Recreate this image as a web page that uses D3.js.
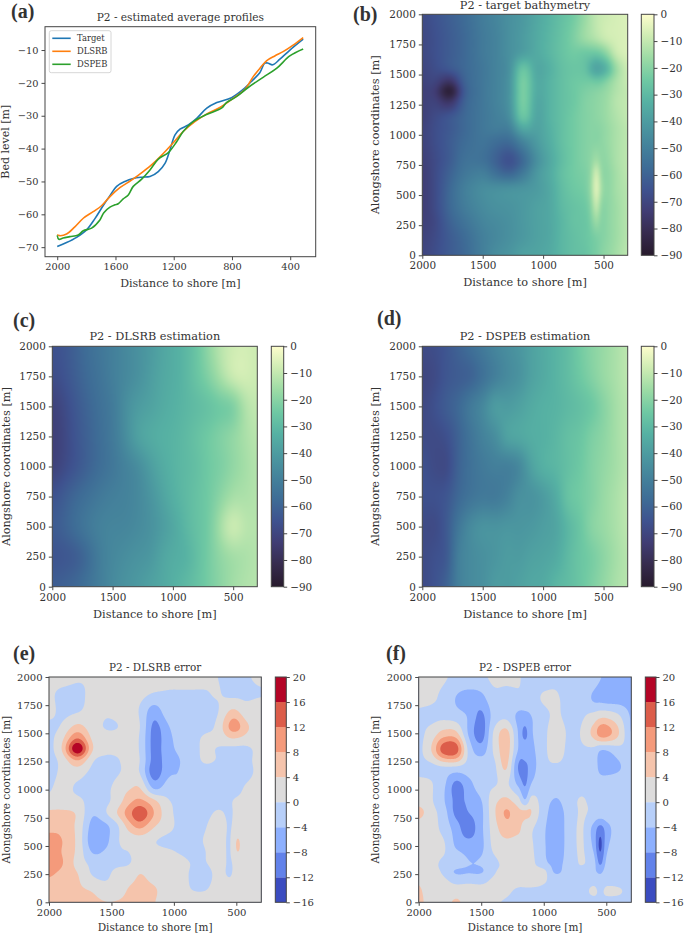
<!DOCTYPE html>
<html lang="en">

<head>
  <meta charset="UTF-8">
  <title>P2 bathymetry estimation</title>
  <script src="https://d3js.org/d3.v7.min.js"></script>
  <style>
    body {
      margin: 0;
      padding: 0;
      background: white;
    }

    text {
      font-family: "DejaVu Serif", serif;
      fill: #333;
    }

    .letter {
      font-family: "Liberation Serif", serif;
      font-weight: bold;
      font-size: 20px;
    }
  </style>
</head>

<body>
  <svg id="fig" width="685" height="933"></svg>
  <script>
    // (a) average profiles
    const targetX = [2000, 1936, 1867, 1800, 1741, 1684, 1638, 1592, 1535, 1478, 1420, 1363, 1306, 1260, 1226, 1191, 1157, 1100, 1042, 973, 904, 803, 723, 654, 609, 574, 551, 521, 471, 402, 311];
    const targetY = [-69.8, -68.6, -67, -64.8, -61.3, -57.3, -54.3, -51.5, -50, -49.1, -48.7, -48.5, -47, -44.5, -40.4, -35.8, -34.1, -32.8, -30.8, -27.7, -26, -24.5, -22, -19, -16.9, -14, -14, -14.5, -12.8, -10, -6.7];
    const dlsrbX = [2000, 1982, 1936, 1879, 1821, 1753, 1696, 1638, 1570, 1490, 1410, 1341, 1272, 1203, 1135, 1055, 975, 883, 792, 712, 654, 609, 563, 506, 449, 380, 311];
    const dlsrbY = [-66.2, -66.5, -66, -63.8, -61.2, -59.2, -57.4, -54.6, -51.9, -49.6, -47, -44.5, -41.5, -38.2, -34.8, -31.8, -29.5, -27.5, -24.7, -22, -18.1, -15.6, -13.3, -11.8, -10.5, -8.5, -6.2];
    const dspebX = [2000, 1989, 1959, 1913, 1856, 1821, 1764, 1707, 1680, 1638, 1604, 1581, 1547, 1512, 1478, 1420, 1363, 1306, 1237, 1180, 1135, 1066, 975, 872, 838, 769, 689, 586, 494, 403, 311];
    const dspebY = [-66.4, -67.6, -67.2, -66.8, -66.3, -65, -64.2, -61.7, -59.5, -57.8, -57.1, -56.8, -55.3, -54.1, -51.5, -49.3, -46.5, -43.2, -41.2, -37.9, -34.8, -31.8, -29.6, -27.7, -26, -24.2, -21.4, -18.3, -15.6, -11.8, -9.7];

    const profileTicksX = [2000, 1600, 1200, 800, 400];
    const profileTicksY = [-10, -20, -30, -40, -50, -60, -70];
    const mapTicksX = [2000, 1500, 1000, 500];
    const mapTicksY = [0, 250, 500, 750, 1000, 1250, 1500, 1750, 2000];
    const depthTicks = [0, -10, -20, -30, -40, -50, -60, -70, -80, -90];
    const errLevels = [-16, -12, -8, -4, 0, 4, 8, 12, 16, 20];
    const errColors = ["#3b4cc0", "#6282ea", "#8db0fe", "#b7cff9", "#dddcdc", "#f5c4ac", "#f49a7b", "#dc5d4a", "#b40426"];
    const deepStops = ["#fdfdcc", "#ceecb3", "#9cdba5", "#6fc9a3", "#56b1a3", "#4c99a0", "#44829b", "#3e6c96", "#3e528f", "#403c73", "#362b4d", "#271a2c"];

    // (b) target bathymetry, rows top to bottom
    const targetCols = [2000, 1900, 1770, 1650, 1500, 1400, 1280, 1170, 1050, 950, 850, 750, 650, 600, 560, 520, 470, 400, 300];
    const targetRows = [2000, 1800, 1680, 1550, 1440, 1360, 1280, 1150, 1050, 950, 790, 680, 550, 400, 280, 150, 0];
    const targetGrid = [
      [-68, -65, -61, -57, -51, -48, -44, -41, -36, -32, -28, -24, -17, -13, -10, -9, -8, -7, -6],
      [-69, -66, -62, -58, -52, -49, -44, -40, -35, -31, -27, -22, -16, -14, -12, -10, -8, -7, -6],
      [-69, -66, -62, -58, -52, -49, -44, -39, -35, -31, -27, -24, -25, -25, -25, -23, -18, -9, -6],
      [-70, -67, -63, -58, -53, -49, -44, -26, -36, -33, -28, -26, -27, -34, -38, -36, -31, -17, -8],
      [-71, -70, -77, -60, -53, -49, -43, -22, -35, -32, -28, -25, -24, -24, -25, -24, -20, -14, -9],
      [-72, -73, -88, -62, -53, -49, -43, -22, -35, -32, -28, -25, -22, -21, -20, -19, -17, -13, -10],
      [-72, -71, -77, -60, -53, -49, -43, -22, -36, -32, -28, -25, -21, -20, -19, -18, -16, -12, -10],
      [-72, -68, -64, -58, -53, -50, -45, -25, -37, -32, -28, -24, -21, -20, -19, -18, -16, -13, -10],
      [-71, -67, -63, -58, -53, -51, -50, -36, -38, -33, -28, -24, -21, -20, -20, -19, -17, -14, -11],
      [-71, -67, -62, -57, -54, -56, -57, -48, -40, -34, -28, -24, -21, -20, -20, -19, -17, -14, -11],
      [-72, -68, -62, -55, -55, -60, -66, -58, -44, -36, -29, -24, -21, -19, -14, -19, -18, -14, -11],
      [-73, -68, -60, -53, -50, -55, -59, -52, -41, -35, -28, -24, -22, -18, -4, -18, -19, -15, -11],
      [-73, -68, -58, -50, -45, -44, -43, -42, -40, -36, -29, -25, -23, -17, -1, -16, -19, -15, -12],
      [-73, -68, -58, -51, -46, -44, -43, -41, -38, -36, -30, -27, -25, -20, -7, -20, -19, -16, -12],
      [-72, -69, -60, -54, -48, -46, -44, -41, -38, -36, -31, -27, -26, -22, -15, -21, -19, -16, -12],
      [-71, -68, -62, -57, -50, -47, -44, -41, -38, -36, -31, -28, -26, -24, -22, -21, -19, -16, -12],
      [-70, -67, -62, -58, -50, -45, -42, -38, -37, -35, -31, -28, -27, -24, -23, -20, -18, -15, -11]
    ];

    // (c) and (d) estimations
    const estCols = [2000, 1900, 1800, 1700, 1600, 1500, 1400, 1300, 1200, 1100, 1000, 900, 800, 700, 600, 500, 400, 300];
    const estRows = [2000, 1750, 1500, 1250, 1000, 750, 500, 250, 0];
    const dlsrbGrid = [
      [-66, -64, -60, -56, -53, -50, -47, -44, -41, -37, -34, -31, -26, -18, -11, -8, -7, -9],
      [-68, -65, -61, -57, -54, -50, -47, -44, -40, -36, -34, -31, -26, -21, -14, -8, -7, -9],
      [-72, -68, -63, -59, -55, -52, -45, -40, -38, -35, -33, -31, -29, -27, -24, -23, -12, -10],
      [-73, -69, -64, -60, -56, -52, -46, -38, -35, -33, -32, -30, -27, -24, -21, -18, -14, -11],
      [-72, -68, -64, -60, -56, -53, -49, -46, -40, -35, -32, -30, -28, -24, -22, -18, -15, -12],
      [-66, -62, -58, -55, -52, -50, -49, -47, -43, -38, -33, -30, -27, -24, -19, -14, -14, -12],
      [-63, -60, -56, -52, -49, -48, -48, -46, -44, -40, -36, -31, -27, -24, -14, -7, -12, -12],
      [-65, -64, -62, -57, -50, -47, -45, -43, -42, -37, -34, -33, -28, -23, -18, -15, -14, -12],
      [-62, -60, -58, -54, -50, -46, -43, -41, -38, -36, -33, -30, -27, -23, -19, -15, -13, -12]
    ];
    const dspebGrid = [
      [-68, -67, -64, -60, -56, -52, -48, -45, -42, -38, -35, -32, -29, -24, -20, -17, -14, -11],
      [-70, -68, -64, -62, -60, -55, -50, -46, -43, -38, -35, -32, -29, -25, -21, -17, -14, -11],
      [-69, -66, -62, -58, -52, -47, -40, -40, -38, -35, -33, -32, -30, -28, -25, -20, -15, -12],
      [-68, -68, -66, -60, -54, -49, -45, -38, -36, -34, -33, -31, -28, -26, -22, -19, -15, -12],
      [-66, -68, -68, -60, -55, -52, -50, -50, -47, -38, -33, -31, -28, -25, -21, -18, -15, -12],
      [-66, -66, -64, -58, -54, -52, -52, -49, -44, -43, -40, -35, -27, -24, -21, -17, -14, -11],
      [-68, -68, -63, -53, -46, -43, -43, -42, -42, -41, -39, -37, -31, -26, -20, -17, -14, -11],
      [-68, -66, -63, -50, -46, -44, -42, -40, -40, -38, -37, -35, -30, -26, -23, -19, -15, -12],
      [-68, -65, -60, -50, -46, -44, -40, -40, -38, -36, -35, -31, -29, -26, -22, -18, -14, -12]
    ];

    // (e) DLSRB error
    const errECols = [2000, 1900, 1770, 1650, 1550, 1450, 1350, 1270, 1160, 1050, 950, 850, 750, 650, 550, 500, 430, 300];
    const errERows = [2000, 1850, 1700, 1560, 1460, 1360, 1260, 1150, 1000, 900, 790, 680, 550, 450, 350, 250, 120, 0];
    const errEGrid = [
      [2, 2, 0.5, 0.5, 1.5, 1, 1, 1, 1, 1, 1, 1, 1, 0, -1, -1, -0.5, 1],
      [1, -1, -1, 1, 1.5, 1.5, 1, 1, -0.2, -0.3, -0.3, -0.3, -0.3, 0.3, -1, -1, -0.8, -0.3],
      [1.5, -1, -0.5, 1.5, 0.5, 1, 1.5, -0.5, -6, -1.5, -1, -1, -1, -0.3, 4.2, 4.2, 1.5, 2],
      [-1, 0.3, 5, 1.5, -0.2, -0.1, 1.5, 0, -9, -4.5, -1, -1, -1, 1, 9, 10, 5, 1.5],
      [-1, 2.5, 11.5, 3, 1, 1, 1.5, -0.5, -9.5, -5.5, -2, -1, 0.5, 1, 4.2, 4.2, 3, 1.5],
      [-1, 3.7, 20, 4.3, 1.2, 1, 1.5, -0.5, -9.5, -5.5, -3, -1, 0.5, -0.2, -1, -1, -1, 1.5],
      [-1, 1, 8, 0.5, -1, -0.3, 1.5, -0.1, -9.5, -6, -4, -1.5, 0.5, -0.2, -1, -1, -1, 1.5],
      [-1, 0.5, 1.5, -1, -1.5, -0.3, 1, -0.2, -10.5, -4.8, -3.8, -1.5, -1.5, -1.5, -1.5, -1.5, -1, 1],
      [-0.3, 1, -0.5, -1.5, -1, 1.5, 4, 4.5, -3.9, -2, -3.8, -1, -1, -1, -1, -1, 0.5, 1.5],
      [1, 1.5, 1, -1.5, -1, 2, 7, 9, 5, 0.5, -1, -1, -1, -1, -0.3, 0.5, 1, 1],
      [5, 5, 3.5, -3.5, -0.5, 4.3, 11, 15.5, 8, 1.5, -1, -1, -1, 0.5, -0.5, 1, 2, 2],
      [6.5, 6.5, 3, -5.5, -5, -0.5, 6.5, 9.5, 4.5, 1.5, -1, -1, -0.3, 2, -0.5, 2, 2, 2],
      [9.5, 8.2, 3, -6.5, -5.5, -0.3, 1.2, 1.8, 0.3, -1, -1, -1, 0.3, 2, -0.5, 4.5, 2, 2],
      [9.5, 8, 3, -4.5, -3.5, -0.5, 0.1, 1.5, 1, 0.5, -0.3, -1, -0.1, 2, -0.5, 4.3, 2, 2],
      [9, 8.5, 2.5, -1, -1.2, -0.8, -0.1, 1.5, 1.5, 1, 1, -0.2, -0.2, 1.5, -0.5, 1.5, 2, 2],
      [8.5, 7, 4.2, -0.3, -1, 1.5, 1.8, 4.2, 2, 1.5, 1, -0.5, -1.5, 1, -0.4, 1.5, 2, 2],
      [6, 5.5, 4.5, 3.5, 1.5, 2, 4.5, 5.5, 4.5, 2, 1.5, -0.2, -0.3, 1.5, 1.5, 2, 2, 2],
      [6, 5.5, 5, 4.8, 4.2, 4.3, 5, 5.5, 4.2, 2, 2, 2, 2, 2, 2, 2, 2, 2]
    ];

    // (f) DSPEB error
    const errFCols = [2000, 1900, 1800, 1700, 1600, 1500, 1400, 1300, 1200, 1150, 1100, 1000, 900, 800, 700, 600, 550, 500, 400, 300];
    const errFRows = [2000, 1800, 1650, 1500, 1350, 1200, 1050, 900, 800, 650, 500, 350, 275, 200, 100, 0];
    const errFGrid = [
      [0.5, 0.5, 0.5, -1, -1, -1, 1, 1, 0.5, -1, -1, -1, -0.5, -1, -1, -2, -3.8, -4.5, -5, -5],
      [0.5, 0.5, -1, -4.2, -6, -5.5, -1.5, -1.5, -1, -1, -1, 0.3, 0.3, -1, -1.5, -4.5, -5, -5.5, -5.5, -5.5],
      [-0.5, -1, -1, -2, -4.5, -9, -2.5, -1, -5, -5.5, -4, -1, 0.5, -1, -0.5, 1.5, 3, 3, 0.5, -4.5],
      [-1, 1.5, 5.5, 5, -4.5, -10, 0.5, 5.5, -4.5, -9, -4.5, -1, 2, -0.5, 0.3, 5.5, 10, 10, 4, -4.2],
      [-1, 3.8, 14, 14, -1, -6, 0.5, 6, -4.5, -6, -5, -1, 2, -1, -0.5, -1, -3.8, -3.8, -1.5, -1],
      [-0.5, -1, -0.3, -0.5, -1.5, -1, -1, 4.5, -8.5, -9, -6, -1, -0.5, -1, -1, -1.5, -5.5, -6, -4.5, -1],
      [0.5, 0.3, -3, -9, -5.5, -1.5, -0.5, 0.8, -5, -8.5, -3.8, -1, -1, -1, -1, -1, -1.5, -1.5, -1, -1],
      [2, 0.5, -3.5, -9, -7, -4.2, 2.5, 5, 1.5, -3.5, 1.5, -2, -4.5, -1.5, 0.3, -1, -1, -1, -1, -1],
      [5.5, 1.5, -2, -9, -8, -5, 3, 8.5, 5, 4.8, 4, -2.5, -5.5, -2.5, 0.5, -1, -1, -1, -1, -1],
      [1, 1, -1, -6, -10, -5, 2, 6, 5, 1.5, 0.5, -3.5, -6, -2.5, 0.5, -5.5, -10, -6, -1, -1],
      [1, 1, 0.5, -4.5, -6, -5, 1, 2.5, 1, 1, 0.5, -3.5, -6, -2.5, 0.5, -5, -13, -5, -1, -1],
      [1, 0.8, -0.5, -1, -3.8, -3.5, -1, 1, 1, 1, 1, -3, -5, -2.5, 0.3, -2.5, -9, -3, -1, -1],
      [4, 1, -0.5, -4.6, -4.5, -4.5, -0.5, 1, 1, 1, 1, 1, -5, -1, -1, -3, -5, -2, -1, -1],
      [3.5, 1, 0.5, -1, -1, -1, 0.5, 1, 1, 1, 1, 0.3, -1, -1, -1, -1, -2, -1, -1, -1],
      [5, 1, 1, 1.5, 1.5, 1, 0.8, 0.5, -0.5, -0.5, -0.5, -0.5, -1, -1, -1, 0.5, -0.5, 0.5, 0.3, -1],
      [6, 1, 1, 5, 1, 0.5, 0.3, -0.3, -1, -1, -1, -1, -1, -1, -1, -1, -1, -1, -1, -1]
    ];

    const svg = d3.select("#fig");
    const deep = d3.piecewise(d3.interpolateRgb, deepStops);

    function cubic(p0, p1, p2, p3, t) {
      return p1 + 0.5 * t * (p2 - p0 + t * (2 * p0 - 5 * p1 + 4 * p2 - p3 + t * (3 * (p1 - p2) + p3 - p0)));
    }

    // bicubic resample of a hand read grid, then blur a bit
    function resample(cols, rows, grid, w, h, r) {
      const colIdx = d3.scaleLinear().domain(cols).range(d3.range(cols.length));
      const rowIdx = d3.scaleLinear().domain(rows).range(d3.range(rows.length));
      const nc = cols.length, nr = rows.length;
      const cl = (v, n) => Math.max(0, Math.min(n - 1, v));
      const data = new Float64Array(w * h);
      for (let j = 0; j < h; j++) {
        const fy = rowIdx(2000 - 2000 * (j + 0.5) / h);
        const r0 = Math.min(Math.floor(fy), nr - 2);
        for (let i = 0; i < w; i++) {
          const fx = colIdx(2000 - 1700 * (i + 0.5) / w);
          const c0 = Math.min(Math.floor(fx), nc - 2);
          const across = [-1, 0, 1, 2].map(dr => {
            const row = grid[cl(r0 + dr, nr)];
            return cubic(row[cl(c0 - 1, nc)], row[c0], row[c0 + 1], row[cl(c0 + 2, nc)], fx - c0);
          });
          data[j * w + i] = cubic(across[0], across[1], across[2], across[3], fy - r0);
        }
      }
      return d3.blur2({ data, width: w, height: h }, r).data;
    }

    function styleAxis(g, size) {
      g.selectAll("text").attr("font-size", size).style("fill", "#333");
      g.selectAll("line").attr("stroke", "#333").attr("stroke-width", 0.9);
      g.select(".domain").remove();
    }

    function frame(box) {
      svg.append("rect")
        .attr("x", box.left).attr("y", box.top)
        .attr("width", box.right - box.left).attr("height", box.bottom - box.top)
        .attr("fill", "none").attr("stroke", "#444").attr("stroke-width", 1);
    }

    function axes(box, x, y, ticksX, ticksY, o) {
      svg.append("g").attr("transform", `translate(0,${box.bottom})`)
        .call(d3.axisBottom(x).tickValues(ticksX).tickFormat(d3.format("d")).tickSize(3.5).tickPadding(3))
        .call(styleAxis, o.size);
      svg.append("g").attr("transform", `translate(${box.left},0)`)
        .call(d3.axisLeft(y).tickValues(ticksY).tickFormat(d3.format("d")).tickSize(3.5).tickPadding(3))
        .call(styleAxis, o.size);
      svg.append("text").attr("x", (box.left + box.right) / 2).attr("y", o.titleY)
        .attr("text-anchor", "middle").attr("font-size", o.titleSize).text(o.title);
      svg.append("text").attr("x", (box.left + box.right) / 2).attr("y", o.xLabelY)
        .attr("text-anchor", "middle").attr("font-size", o.labelSize).text("Distance to shore [m]");
      svg.append("text")
        .attr("transform", `translate(${o.yLabelX},${(box.top + box.bottom) / 2}) rotate(-90)`)
        .attr("text-anchor", "middle").attr("font-size", o.labelSize).text(o.yLabel);
    }

    function mapScales(box) {
      return {
        x: d3.scaleLinear().domain([2000, 300]).range([box.left, box.right]),
        y: d3.scaleLinear().domain([0, 2000]).range([box.bottom, box.top])
      };
    }

    function depthPanel(box, cols, rows, grid, blurR, o) {
      const w = Math.round(box.right - box.left), h = Math.round(box.bottom - box.top);
      const values = resample(cols, rows, grid, w, h, blurR);
      const canvas = document.createElement("canvas");
      canvas.width = w;
      canvas.height = h;
      const ctx = canvas.getContext("2d");
      const img = ctx.createImageData(w, h);
      values.forEach((v, k) => {
        const c = d3.rgb(deep(Math.min(1, Math.max(0, -v / 90))));
        img.data[k * 4] = c.r;
        img.data[k * 4 + 1] = c.g;
        img.data[k * 4 + 2] = c.b;
        img.data[k * 4 + 3] = 255;
      });
      ctx.putImageData(img, 0, 0);
      svg.append("image").attr("href", canvas.toDataURL())
        .attr("x", box.left).attr("y", box.top)
        .attr("width", box.right - box.left).attr("height", box.bottom - box.top)
        .attr("preserveAspectRatio", "none");

      const { x, y } = mapScales(box);
      axes(box, x, y, mapTicksX, mapTicksY, { ...o, yLabel: "Alongshore coordinates [m]" });
      frame(box);

      // colorbar
      const cb = { left: o.cbLeft, right: o.cbRight, top: box.top, bottom: box.bottom };
      const gid = "deep" + Math.round(o.cbLeft) + "-" + Math.round(box.top);
      const grad = svg.append("defs").append("linearGradient")
        .attr("id", gid).attr("x1", 0).attr("y1", 0).attr("x2", 0).attr("y2", 1);
      grad.selectAll("stop").data(deepStops).join("stop")
        .attr("offset", (d, i) => i / (deepStops.length - 1))
        .attr("stop-color", d => d);
      svg.append("rect").attr("x", cb.left).attr("y", cb.top)
        .attr("width", cb.right - cb.left).attr("height", cb.bottom - cb.top)
        .attr("fill", `url(#${gid})`);
      const cy = d3.scaleLinear().domain([-90, 0]).range([cb.bottom, cb.top]);
      svg.append("g").attr("transform", `translate(${cb.right},0)`)
        .call(d3.axisRight(cy).tickValues(depthTicks).tickFormat(d3.format("d")).tickSize(3.5).tickPadding(3))
        .call(styleAxis, o.size);
      frame(cb);
    }

    function errorPanel(box, cols, rows, grid, blurR, o) {
      const w = 425, h = 450;
      const values = resample(cols, rows, grid, w, h, blurR);
      const { x, y } = mapScales(box);
      const clipId = "clip" + Math.round(box.left);
      svg.append("clipPath").attr("id", clipId).append("rect")
        .attr("x", box.left).attr("y", box.top)
        .attr("width", box.right - box.left).attr("height", box.bottom - box.top);
      const g = svg.append("g").attr("clip-path", `url(#${clipId})`);
      g.append("rect").attr("x", box.left).attr("y", box.top)
        .attr("width", box.right - box.left).attr("height", box.bottom - box.top)
        .attr("fill", errColors[0]);

      const px = d3.scaleLinear().domain([0.5, w - 0.5]).range([box.left, box.right]);
      const py = d3.scaleLinear().domain([0.5, h - 0.5]).range([box.top, box.bottom]);
      const path = d3.geoPath(d3.geoTransform({
        point(a, b) { this.stream.point(px(a), py(b)); }
      }));
      const thresholds = errLevels.slice(1, -1);
      const bands = d3.contours().size([w, h]).thresholds(thresholds)(values);
      g.selectAll("path").data(bands).join("path")
        .attr("d", path)
        .attr("fill", (d, i) => errColors[i + 1]);

      axes(box, x, y, mapTicksX, mapTicksY, { ...o, yLabel: "Alongshore coordinates [m]" });
      frame(box);

      const cb = { left: o.cbLeft, right: o.cbRight, top: box.top, bottom: box.bottom };
      const cy = d3.scaleLinear().domain([-16, 20]).range([cb.bottom, cb.top]);
      svg.append("g").selectAll("rect").data(errColors).join("rect")
        .attr("x", cb.left).attr("width", cb.right - cb.left)
        .attr("y", (d, i) => cy(errLevels[i + 1]))
        .attr("height", (d, i) => cy(errLevels[i]) - cy(errLevels[i + 1]))
        .attr("fill", d => d);
      svg.append("g").attr("transform", `translate(${cb.right},0)`)
        .call(d3.axisRight(cy).tickValues(errLevels).tickFormat(d3.format("d")).tickSize(3.5).tickPadding(3))
        .call(styleAxis, o.size);
      frame(cb);
    }

    // panel (a)
    const boxA = { left: 45, right: 315.7, top: 26.7, bottom: 256.7 };
    const xA = d3.scaleLinear().domain([2084, 225]).range([boxA.left, boxA.right]);
    const yA = d3.scaleLinear().domain([-2.9, -72.9]).range([boxA.top, boxA.bottom]);
    const profiles = [
      { name: "Target", xs: targetX, ys: targetY, color: "#1f77b4" },
      { name: "DLSRB", xs: dlsrbX, ys: dlsrbY, color: "#ff7f0e" },
      { name: "DSPEB", xs: dspebX, ys: dspebY, color: "#2ca02c" }
    ];
    const lineA = d3.line().curve(d3.curveCatmullRom).x(d => xA(d[0])).y(d => yA(d[1]));
    profiles.forEach(p => {
      svg.append("path").attr("d", lineA(d3.zip(p.xs, p.ys)))
        .attr("fill", "none").attr("stroke", p.color).attr("stroke-width", 1.6);
    });
    axes(boxA, xA, yA, profileTicksX, profileTicksY, {
      size: 9.8, titleSize: 10.6, labelSize: 11, title: "P2 - estimated average profiles", titleY: 20.5, xLabelY: 287, yLabelX: 8.5, yLabel: "Bed level [m]"
    });
    frame(boxA);

    const legend = svg.append("g");
    legend.append("rect").attr("x", 49.3).attr("y", 30.7).attr("width", 61.7).attr("height", 42)
      .attr("rx", 2).attr("fill", "white").attr("fill-opacity", 0.8).attr("stroke", "#ccc").attr("stroke-width", 0.8);
    profiles.forEach((p, i) => {
      const ly = 38.3 + i * 13;
      legend.append("line").attr("x1", 52.3).attr("x2", 70.7).attr("y1", ly).attr("y2", ly)
        .attr("stroke", p.color).attr("stroke-width", 1.6);
      legend.append("text").attr("x", 77).attr("y", ly + 3).attr("font-size", 8.4).text(p.name);
    });

    // maps
    depthPanel({ left: 422.3, right: 627.7, top: 14.3, bottom: 255.3 }, targetCols, targetRows, targetGrid, 2, {
      size: 10.4, titleSize: 11.3, labelSize: 11.3, title: "P2 - target bathymetry", titleY: 8.5, xLabelY: 286, yLabelX: 379, cbLeft: 641.3, cbRight: 654
    });
    depthPanel({ left: 52.3, right: 257.3, top: 346.3, bottom: 586.7 }, estCols, estRows, dlsrbGrid, 5, {
      size: 10.4, titleSize: 11.3, labelSize: 11.3, title: "P2 - DLSRB estimation", titleY: 340, xLabelY: 618, yLabelX: 9.5, cbLeft: 271.3, cbRight: 283.7
    });
    depthPanel({ left: 422.3, right: 627.7, top: 346.3, bottom: 586.7 }, estCols, estRows, dspebGrid, 2, {
      size: 10.4, titleSize: 11.3, labelSize: 11.3, title: "P2 - DSPEB estimation", titleY: 340, xLabelY: 618, yLabelX: 379, cbLeft: 641.3, cbRight: 654
    });
    errorPanel({ left: 49, right: 261.3, top: 677, bottom: 902.3 }, errECols, errERows, errEGrid, 3, {
      size: 10, titleSize: 10.4, labelSize: 10.5, title: "P2 - DLSRB error", titleY: 670.5, xLabelY: 931, yLabelX: 9.5, cbLeft: 275.3, cbRight: 286.3
    });
    errorPanel({ left: 418.7, right: 631.3, top: 677, bottom: 902.3 }, errFCols, errFRows, errFGrid, 1, {
      size: 10, titleSize: 10.4, labelSize: 10.5, title: "P2 - DSPEB error", titleY: 670.5, xLabelY: 931, yLabelX: 378.5, cbLeft: 645.3, cbRight: 656
    });

    // panel letters
    const letters = ["(a)", "(b)", "(c)", "(d)", "(e)", "(f)"];
    const letterX = [11, 353, 13, 377, 13, 386];
    const letterY = [18, 21, 327, 325, 660, 660];
    letters.forEach((t, i) => {
      svg.append("text").attr("class", "letter").attr("x", letterX[i]).attr("y", letterY[i]).text(t);
    });
  </script>
</body>

</html>
